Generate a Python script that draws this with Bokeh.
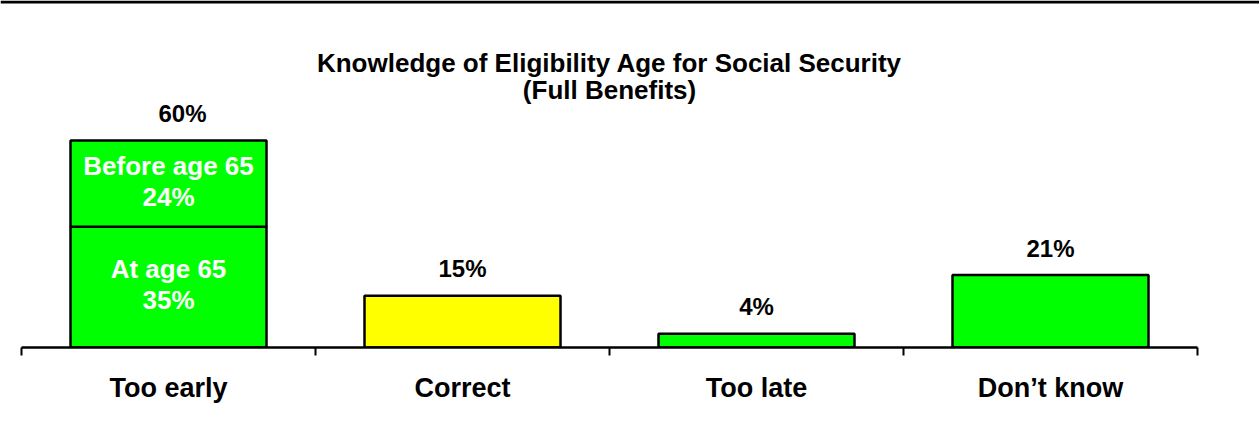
from bokeh.plotting import figure
from bokeh.models import ColumnDataSource, Range1d, LinearAxis, FixedTicker, Span
from bokeh.core.properties import value
from bokeh.embed import file_html
from bokeh.resources import INLINE

# ---- data ----
categories = ["Too early", "Correct", "Too late", "Don\u2019t know"]
totals = [60, 15, 4, 21]
bar_colors = ["#00FF00", "#FFFF00", "#00FF00", "#00FF00"]
at_age_65 = 35
before_age_65 = 24
segment_names = ["At age 65", "Before age 65"]
title_lines = ["Knowledge of Eligibility Age for Social Security", "(Full Benefits)"]

# ---- layout constants ----
W, H = 1259, 439
AXIS_Y = 347            # pixel row of the category axis
PX_X = 294              # pixels per category
PX_Y = 3.45             # pixels per percent
LEFT = 21
FONT = value("Liberation Sans")

x_start = -LEFT / PX_X
x_end = x_start + W / PX_X
y_end = AXIS_Y / PX_Y

p = figure(width=W, height=H, x_range=Range1d(x_start, x_end), y_range=Range1d(0, y_end),
           output_backend="svg", toolbar_location=None,
           x_axis_location=None, y_axis_location=None,
           min_border_left=0, min_border_right=0, min_border_top=0, min_border_bottom=H - AXIS_Y,
           outline_line_color=None, background_fill_color="white", border_fill_color="white")
p.xgrid.visible = False
p.ygrid.visible = False

centers = [i + 0.5 for i in range(len(categories))]

# bars (first category stacked)
bx, bb, bt, bc = [], [], [], []
for i, (c, tot, col) in enumerate(zip(centers, totals, bar_colors)):
    if i == 0:
        bx += [c, c]
        bb += [0, at_age_65]
        bt += [at_age_65, tot]
        bc += [col, col]
    else:
        bx.append(c); bb.append(0); bt.append(tot); bc.append(col)
p.vbar(x="x", bottom="b", top="t", width=2 / 3, fill_color="c", line_color="black", line_width=2.5,
       source=ColumnDataSource(dict(x=bx, b=bb, t=bt, c=bc)))

# value labels above bars
p.text(x="x", y="y", text="t", x_offset="xo", source=ColumnDataSource(dict(
    x=centers, y=totals, t=[f"{v}%" for v in totals], xo=[14, 0, 0, 0])),
    text_font=FONT, text_font_style="bold", text_font_size="24px", text_color="black",
    text_align="center", text_baseline="alphabetic", y_offset=-27)

# inside labels of stacked bar
seg_mid = [at_age_65 / 2, at_age_65 + (totals[0] - at_age_65) / 2]
seg_vals = [at_age_65, before_age_65]
p.text(x=[centers[0]] * 2, y=seg_mid, text=segment_names, text_font=FONT, text_font_style="bold",
       text_font_size="26px", text_color="white", text_align="center", text_baseline="alphabetic",
       y_offset=-18)
p.text(x=[centers[0]] * 2, y=seg_mid, text=[f"{v}%" for v in seg_vals], text_font=FONT,
       text_font_style="bold", text_font_size="26px", text_color="white", text_align="center",
       text_baseline="alphabetic", y_offset=13)

# title
p.text(x=[len(categories) / 2] * 2, y=[y_end] * 2, text=title_lines, y_offset=[62, 89],
       text_font=FONT, text_font_style="bold", text_font_size="26px", text_color="black",
       text_align="center", text_baseline="alphabetic")

# top rule
p.add_layout(Span(location=y_end - 1.5 / PX_Y, dimension="width", line_color="black", line_width=3))

# category axis
ax = LinearAxis(ticker=FixedTicker(ticks=centers, minor_ticks=list(range(len(categories) + 1))),
                bounds=(0, len(categories)))
ax.major_label_overrides = {c: name for c, name in zip(centers, categories)}
ax.axis_line_color = "black"
ax.axis_line_width = 2.5
ax.major_tick_line_color = None
ax.major_tick_in = 0
ax.major_tick_out = 0
ax.minor_tick_line_color = "black"
ax.minor_tick_line_width = 2
ax.minor_tick_in = 0
ax.minor_tick_out = 8
ax.major_label_standoff = 17
ax.major_label_text_font = "Liberation Sans"
ax.major_label_text_font_style = "bold"
ax.major_label_text_font_size = "27px"
ax.major_label_text_color = "black"
p.add_layout(ax, "below")

open("out.html", "w").write(file_html(p, INLINE))
